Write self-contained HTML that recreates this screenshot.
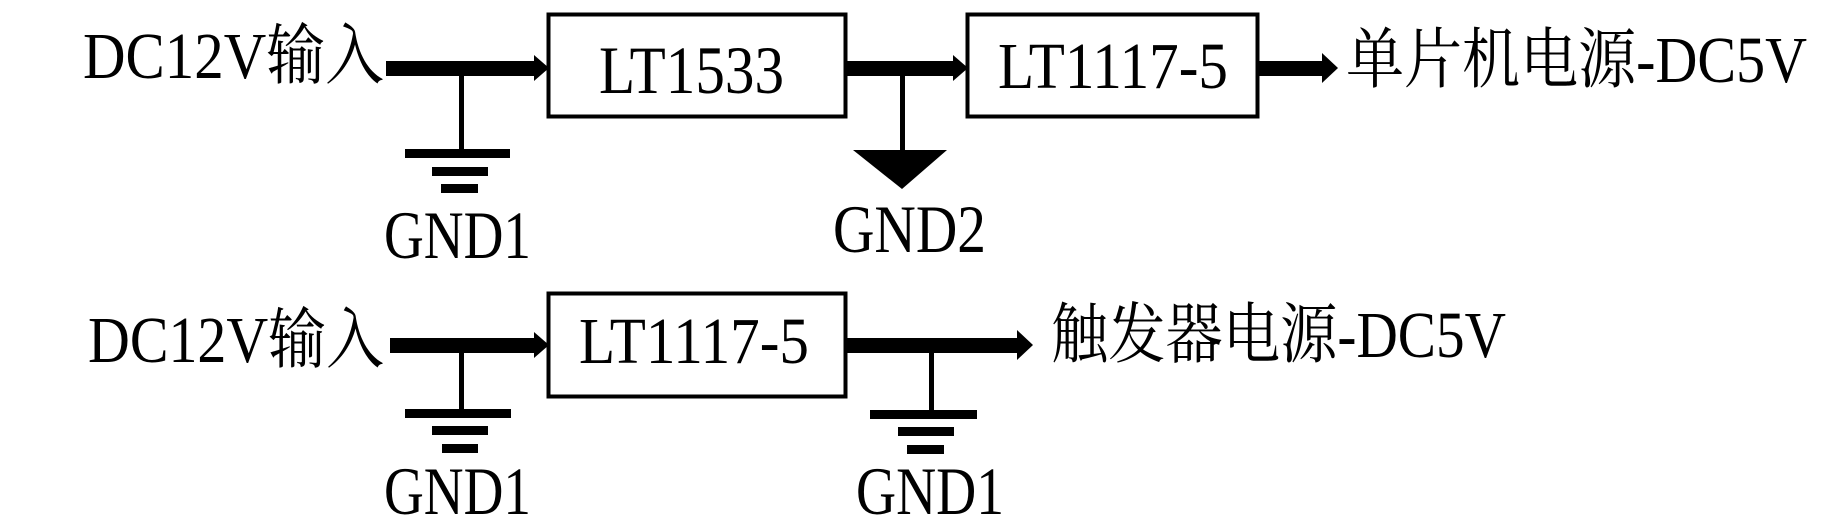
<!DOCTYPE html>
<html><head><meta charset="utf-8"><style>html,body{margin:0;padding:0;background:#fff}svg{display:block}</style></head><body>
<svg width="1842" height="520" viewBox="0 0 1842 520" xmlns="http://www.w3.org/2000/svg" font-family="'Liberation Serif','Noto Serif CJK SC',serif" fill="#000">
<!-- Row 1 -->
<text x="83" y="78" font-size="66" textLength="301" lengthAdjust="spacingAndGlyphs">DC12V输入</text>
<rect x="386" y="61" width="150" height="15"/>
<polygon points="534,55 549,68 534,81"/>
<rect x="548.5" y="14.5" width="297" height="102" fill="none" stroke="#000" stroke-width="4"/>
<text x="599" y="93" font-size="68" textLength="185" lengthAdjust="spacingAndGlyphs">LT1533</text>
<rect x="847" y="61" width="108" height="15"/>
<polygon points="953,55 968,68 953,81"/>
<rect x="967.5" y="14.5" width="290" height="102" fill="none" stroke="#000" stroke-width="4"/>
<text x="998" y="88" font-size="66" textLength="230" lengthAdjust="spacingAndGlyphs">LT1117-5</text>
<rect x="1259" y="61" width="65" height="15"/>
<polygon points="1322,53 1338,68 1322,83"/>
<text x="1346" y="82" font-size="66" textLength="461" lengthAdjust="spacingAndGlyphs">单片机电源-DC5V</text>
<rect x="459" y="68" width="5" height="84"/>
<rect x="405" y="149" width="105" height="9"/>
<rect x="432" y="167" width="56" height="9"/>
<rect x="441" y="184" width="37" height="9"/>
<text x="384" y="258" font-size="68" textLength="147" lengthAdjust="spacingAndGlyphs">GND1</text>
<rect x="900" y="68" width="5" height="84"/>
<polygon points="853,150 947,150 902,189"/>
<text x="833" y="252" font-size="68" textLength="153" lengthAdjust="spacingAndGlyphs">GND2</text>
<!-- Row 2 -->
<text x="88" y="362" font-size="66" textLength="296" lengthAdjust="spacingAndGlyphs">DC12V输入</text>
<rect x="390" y="338" width="146" height="15"/>
<polygon points="534,332 549,345 534,358"/>
<rect x="548.5" y="293.5" width="297" height="103" fill="none" stroke="#000" stroke-width="4"/>
<text x="579" y="363" font-size="66" textLength="230" lengthAdjust="spacingAndGlyphs">LT1117-5</text>
<rect x="847" y="338" width="172" height="15"/>
<polygon points="1017,330 1033,345 1017,360"/>
<text x="1051" y="357" font-size="66" textLength="455" lengthAdjust="spacingAndGlyphs">触发器电源-DC5V</text>
<rect x="459" y="345" width="5" height="66"/>
<rect x="405" y="409" width="106" height="9"/>
<rect x="432" y="426" width="56" height="9"/>
<rect x="442" y="444" width="36" height="9"/>
<text x="384" y="514" font-size="68" textLength="147" lengthAdjust="spacingAndGlyphs">GND1</text>
<rect x="929" y="345" width="5" height="67"/>
<rect x="870" y="410" width="107" height="9"/>
<rect x="898" y="427" width="56" height="9"/>
<rect x="907" y="445" width="37" height="9"/>
<text x="856" y="514" font-size="68" textLength="148" lengthAdjust="spacingAndGlyphs">GND1</text>
</svg>
</body></html>
